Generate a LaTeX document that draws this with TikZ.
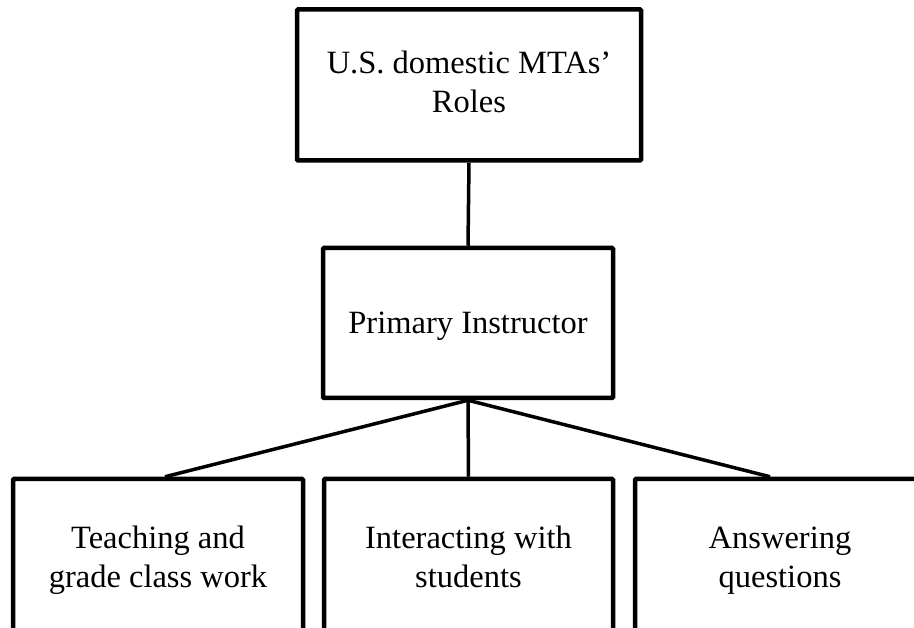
\documentclass[tikz,border=0pt]{standalone}
\usepackage{fontspec}
\setmainfont{Liberation Serif}
\usetikzlibrary{calc}
\begin{document}
\begin{tikzpicture}[x=1pt,y=-1pt,
  box/.style={draw, line width=4.5pt, rounded corners=1pt, align=center,
    inner sep=0pt, font=\fontsize{32.5}{39}\selectfont},
  link/.style={line width=3.5pt}]
  \useasboundingbox (0,0) rectangle (914,628);
  \clip (0,0) rectangle (914,628);

  % hierarchy boxes
  \node[box, minimum width=344pt, minimum height=151pt] (roles) at (469,85)
    {\strut U.S. domestic MTAs’\\Roles\strut};
  \node[box, minimum width=290pt, minimum height=150pt, text depth=0pt] (primary) at (468,323)
    {Primary Instructor};
  \node[box, minimum width=290pt, minimum height=162pt] (teach) at (158,560)
    {\strut Teaching and\\grade class work\strut};
  \node[box, minimum width=289pt, minimum height=162pt] (interact) at (468.5,560)
    {\strut Interacting with\\students\strut};
  \node[box, minimum width=290pt, minimum height=162pt] (answer) at (780,560)
    {\strut Answering\\questions\strut};

  % connectors
  \draw[link] (roles.south) -- (primary.north);
  \draw[link] (primary.south) -- ($(teach.north)+(7,0)$);
  \draw[link] (primary.south) -- (interact.north);
  \draw[link] (primary.south) -- ($(answer.north)+(-10,0)$);
\end{tikzpicture}
\end{document}
